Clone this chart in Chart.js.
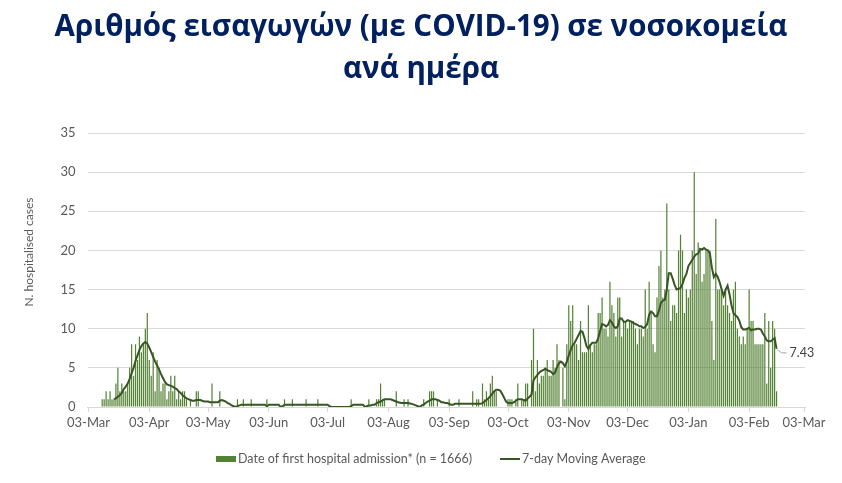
<!DOCTYPE html>
<html><head><meta charset="utf-8">
<script src="https://cdn.jsdelivr.net/npm/chart.js@4"></script>
<style>html,body{margin:0;padding:0;background:#fff;}canvas{display:block;}</style>
</head><body>
<canvas id="c" width="842" height="483"></canvas>
<script>
const titleLines = ['Αριθμός εισαγωγών (με COVID-19) σε νοσοκομεία', 'ανά ημέρα'];
const yAxisTitle = 'N. hospitalised cases';
const seriesNames = ['Date of first hospital admission* (n = 1666)', '7-day Moving Average'];
const lastValueLabel = '7.43';
const firstDay = [2020, 2, 3];
const dayCount = 366;
const monthNames = ['Jan','Feb','Mar','Apr','May','Jun','Jul','Aug','Sep','Oct','Nov','Dec'];
const tickLabels = ['03-Mar','03-Apr','03-May','03-Jun','03-Jul','03-Aug','03-Sep','03-Oct','03-Nov','03-Dec','03-Jan','03-Feb','03-Mar'];
const yTicks = [0, 5, 10, 15, 20, 25, 30, 35];

const admissions = [
0,0,0,0,0,0,0,1,1,2,
1,2,1,1,3,5,2,3,2,2,
3,5,8,4,8,6,9,7,8,10,
12,6,4,7,2,6,5,2,3,3,
1,2,4,2,4,1,2,1,2,2,
1,0,1,0,0,2,2,0,0,0,
0,0,0,3,0,0,0,2,0,0,
0,0,0,0,0,0,1,0,0,1,
0,0,0,1,0,0,0,0,0,0,
0,1,0,0,0,0,0,0,0,0,
1,0,0,0,1,0,0,0,0,0,
0,1,0,0,0,0,0,1,0,0,
0,0,0,0,0,0,0,0,0,0,
0,0,0,0,1,0,0,0,0,0,
0,0,0,1,0,0,0,1,1,3,
1,1,0,0,0,0,0,2,0,0,
0,1,0,1,0,0,0,0,0,0,
0,1,0,0,2,2,2,0,1,0,
0,0,0,0,1,0,0,0,0,1,
0,0,0,0,0,0,2,0,1,1,
0,3,1,2,1,3,4,2,2,0,
0,0,0,0,1,1,1,0,1,3,
0,1,1,3,3,0,6,10,2,6,
3,4,4,5,6,4,4,6,5,8,
6,0,5,1,8,13,11,13,8,8,
6,11,7,7,7,13,8,7,8,8,
12,12,14,10,10,9,16,13,12,9,
14,14,9,11,11,10,11,11,11,10,
8,10,10,9,15,10,16,12,8,7,
14,18,20,14,15,26,15,11,13,13,
12,20,22,20,12,15,14,15,20,30,
17,21,20,16,17,20,20,20,11,6,
24,15,15,15,13,15,13,12,11,15,
16,10,9,8,9,8,10,15,11,11,
8,8,8,8,8,12,3,11,5,11,
10,2
];

const movingAverage = [
null,null,null,null,null,null,null,null,null,null,
null,null,null,1.0,1.1,1.3,1.5,1.8,2.3,2.6,
3.0,3.6,4.3,5.0,5.9,6.6,7.3,7.8,8.1,8.3,
8.1,7.6,7.0,6.4,5.8,5.3,4.8,4.2,3.7,3.2,
2.9,2.8,2.7,2.6,2.4,2.3,2.0,1.8,1.5,1.3,
1.1,1.0,0.9,0.8,0.8,0.9,0.9,0.9,0.8,0.7,
0.7,0.7,0.6,0.6,0.6,0.6,0.6,0.8,0.9,0.8,
0.7,0.5,0.4,0.2,0.1,0.0,0.1,0.2,0.3,0.3,
0.3,0.3,0.3,0.3,0.3,0.3,0.3,0.3,0.3,0.3,
0.3,0.1,0.3,0.3,0.3,0.3,0.3,0.3,0.0,0.1,
0.3,0.3,0.3,0.3,0.3,0.3,0.3,0.3,0.3,0.3,
0.3,0.3,0.3,0.3,0.3,0.3,0.3,0.3,0.3,0.3,
0.3,0.3,0.3,0.1,0.0,0.0,0.0,0.0,0.0,0.0,
0.0,0.0,0.0,0.0,0.1,0.3,0.3,0.3,0.3,0.3,
0.3,0.0,0.1,0.2,0.2,0.3,0.3,0.5,0.6,0.7,
0.85,1.0,1.0,1.0,1.0,0.9,0.8,0.7,0.6,0.55,
0.5,0.5,0.5,0.5,0.45,0.4,0.3,0.2,0.1,0.0,
0.2,0.3,0.5,0.7,0.8,1.0,1.0,1.0,0.9,0.8,
0.6,0.6,0.5,0.5,0.4,0.3,0.3,0.4,0.4,0.4,
0.4,0.4,0.4,0.4,0.4,0.4,0.4,0.4,0.4,0.4,
0.4,0.5,0.7,0.9,1.1,1.4,1.7,2.0,2.2,2.2,
2.1,1.7,1.2,0.7,0.5,0.5,0.5,0.6,0.8,1.0,
1.0,1.0,0.9,0.8,1.1,1.3,1.6,3.4,3.8,4.1,
4.4,4.6,4.7,4.9,4.7,4.6,4.5,4.2,4.4,5.1,
5.6,5.8,5.6,5.2,5.8,6.6,7.3,7.9,8.2,8.7,
9.2,9.7,9.6,8.8,7.8,7.4,7.9,8.2,8.2,8.2,
8.8,9.7,10.6,10.5,10.3,10.5,11.1,10.8,10.3,10.1,
10.3,11.3,11.3,10.9,10.9,11.1,11.0,10.9,10.7,10.6,
10.5,10.3,10.3,10.1,10.2,10.6,11.8,12.2,12.0,11.6,
11.6,12.3,13.3,13.6,13.7,15.0,17.1,17.1,16.4,15.6,
15.0,15.1,15.2,15.7,16.5,17.0,18.0,18.4,18.8,19.2,
19.5,19.6,20.2,20.1,20.3,20.1,20.0,19.6,17.8,16.6,
17.0,16.6,15.9,15.0,14.2,15.0,15.5,14.4,13.0,12.0,
11.7,11.5,11.0,10.2,9.9,9.9,10.0,10.1,9.8,9.9,
9.9,10.0,10.0,9.9,9.4,9.0,8.5,8.4,8.4,8.6,
8.8,7.43
];

// daily category labels (dd-Mon) from the first day
const categories = [];
const t0 = Date.UTC(firstDay[0], firstDay[1], firstDay[2]);
for (let i = 0; i < dayCount; i++) {
  const d = new Date(t0 + i * 86400000);
  categories.push(String(d.getUTCDate()).padStart(2, '0') + '-' + monthNames[d.getUTCMonth()]);
}
const isTick = i => tickLabels.includes(categories[i]);

const GRID = '#d9d9d9';
const TEXT = '#595959';
const BAR = '#548235';
const LINE = '#375623';

const extras = {
  id: 'extras',
  afterDraw(chart) {
    const ctx = chart.ctx;
    // title
    ctx.save();
    ctx.fillStyle = '#002060';
    ctx.font = 'bold 29.5px "Open Sans"';
    ctx.textAlign = 'center';
    ctx.textBaseline = 'middle';
    ctx.fillText(titleLines[0], 421, 28);
    ctx.fillText(titleLines[1], 421, 70);
    ctx.restore();
    // y axis title
    ctx.save();
    ctx.fillStyle = TEXT;
    ctx.font = '12px Lato';
    ctx.textAlign = 'center';
    ctx.textBaseline = 'middle';
    ctx.translate(29, 252);
    ctx.rotate(-Math.PI / 2);
    ctx.fillText(yAxisTitle, 0, 0);
    ctx.restore();
    // legend
    ctx.save();
    ctx.font = '12.5px Lato';
    ctx.textBaseline = 'middle';
    ctx.textAlign = 'left';
    const ly = 459;
    ctx.fillStyle = BAR;
    ctx.fillRect(216, ly - 3, 20, 6);
    ctx.fillStyle = TEXT;
    ctx.fillText(seriesNames[0], 238, ly);
    ctx.strokeStyle = LINE;
    ctx.lineWidth = 2;
    ctx.beginPath();
    ctx.moveTo(500, ly);
    ctx.lineTo(520, ly);
    ctx.stroke();
    ctx.fillText(seriesNames[1], 522, ly);
    ctx.restore();
    // last value label with leader
    const meta = chart.getDatasetMeta(1);
    const pt = meta.data[movingAverage.length - 1];
    if (pt) {
      ctx.save();
      ctx.strokeStyle = '#a6a6a6';
      ctx.lineWidth = 1;
      ctx.beginPath();
      ctx.moveTo(pt.x + 1, pt.y + 1);
      ctx.lineTo(pt.x + 5, pt.y + 4);
      ctx.lineTo(pt.x + 10, pt.y + 4);
      ctx.stroke();
      ctx.fillStyle = '#404040';
      ctx.font = '12.5px Lato';
      ctx.textAlign = 'left';
      ctx.textBaseline = 'middle';
      ctx.fillText(lastValueLabel, pt.x + 13, pt.y + 4);
      ctx.restore();
    }
  }
};

new Chart(document.getElementById('c'), {
  data: {
    labels: categories,
    datasets: [
      {
        type: 'bar',
        label: seriesNames[0],
        data: admissions,
        backgroundColor: BAR,
        borderWidth: 0,
        barPercentage: 0.62,
        categoryPercentage: 1,
        order: 1
      },
      {
        type: 'line',
        label: seriesNames[1],
        data: movingAverage,
        borderColor: LINE,
        backgroundColor: LINE,
        borderWidth: 2,
        pointRadius: 0,
        tension: 0,
        order: 0
      }
    ]
  },
  options: {
    responsive: false,
    animation: false,
    devicePixelRatio: 1,
    layout: { padding: { left: 0, right: 37, top: 133, bottom: 46 } },
    plugins: {
      title: { display: false },
      legend: { display: false },
      tooltip: { enabled: false }
    },
    scales: {
      x: {
        type: 'category',
        offset: true,
        grid: {
          offset: false,
          drawOnChartArea: false,
          drawTicks: true,
          tickLength: 5,
          color: ctx => isTick(ctx.index) ? GRID : 'rgba(0,0,0,0)'
        },
        border: { color: GRID },
        ticks: {
          autoSkip: false,
          maxRotation: 0,
          minRotation: 0,
          color: TEXT,
          font: { family: 'Lato', size: 13 },
          padding: 3,
          callback: (v, i) => isTick(i) ? categories[i] : ''
        },
        afterFit: s => { s.height = 30; }
      },
      y: {
        min: 0,
        max: 35,
        afterBuildTicks: s => { s.ticks = yTicks.map(v => ({ value: v })); },
        grid: { color: GRID, drawTicks: false },
        border: { display: false },
        ticks: { color: TEXT, font: { family: 'Lato', size: 13 }, padding: 12 },
        afterFit: s => { s.width = 87.5; }
      }
    }
  },
  plugins: [extras]
});
</script>
</body></html>
